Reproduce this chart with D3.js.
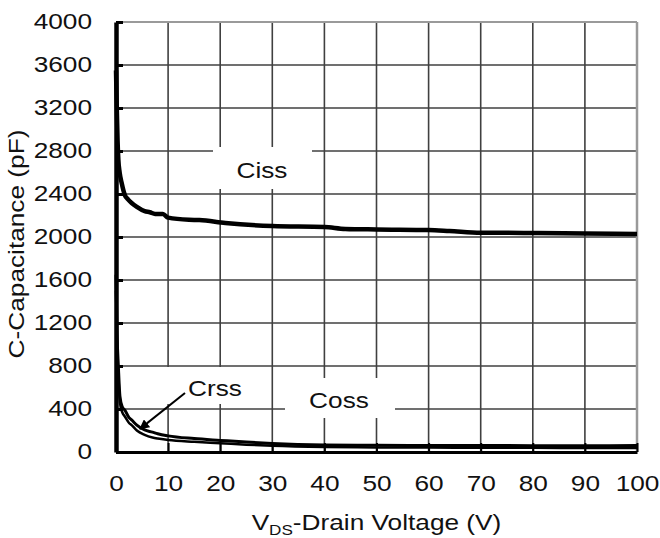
<!DOCTYPE html>
<html>
<head>
<meta charset="utf-8">
<script src="https://cdn.jsdelivr.net/npm/d3@7"></script>
<style>
  body { margin: 0; background: #fff; }
  text { font-family: "Liberation Sans", Arial, sans-serif; fill: #111; }
</style>
</head>
<body>
<svg id="chart" width="660" height="538"></svg>
<script>
// tick values
var xTicks = [0, 10, 20, 30, 40, 50, 60, 70, 80, 90, 100]
var yTicks = [0, 400, 800, 1200, 1600, 2000, 2400, 2800, 3200, 3600, 4000]

// Ciss curve
var vdsCiss = [0, 0.15, 0.3, 0.45, 0.7, 1.1, 1.7, 2.3, 3, 4, 5.5, 6.5, 7.5, 9, 10, 14, 16, 21, 30, 40, 44, 50, 60, 64, 70, 81, 90, 100]
var ciss = [3550, 3200, 2900, 2720, 2600, 2500, 2390, 2350, 2316, 2280, 2240, 2230, 2214, 2214, 2180, 2160, 2158, 2130, 2102, 2093, 2075, 2070, 2065, 2056, 2040, 2037, 2032, 2028]

// Coss / Crss curves
var vdsOut = [0, 0.2, 0.45, 0.75, 1.2, 1.7, 2.5, 3, 4, 5.5, 7, 8, 10, 15, 20, 25, 30, 40, 50, 60, 70, 80, 90, 100]
var coss = [1650, 1100, 800, 520, 420, 390, 320, 298, 250, 205, 185, 170, 150, 125, 108, 92, 80, 66, 62, 60, 60, 59, 59, 60]
var crss = [1500, 1000, 720, 460, 370, 330, 270, 250, 200, 160, 135, 125, 112, 95, 82, 68, 58, 47, 43, 41, 40, 39, 38, 38]

drawChart()

function drawChart() {
    var svg = d3.select("#chart")
    var pLeft = 116, pRight = 637, pTop = 22, pBottom = 452
    var stretchK = 1.22   // the glyphs in the original are wider than Arial

    var x = d3.scaleLinear().domain([0, 100]).range([pLeft, pRight])
    var y = d3.scaleLinear().domain([0, 4000]).range([pBottom, pTop])

    function stretch(sel) {
        sel.each(function () {
            var w = this.getComputedTextLength()
            d3.select(this).attr("textLength", w * stretchK).attr("lengthAdjust", "spacingAndGlyphs")
        })
    }

    //gridlines
    svg.append("g")
        .selectAll("line")
        .data(xTicks.slice(1, -1))
        .enter().append("line")
        .attr("x1", d => x(d)).attr("x2", d => x(d))
        .attr("y1", pTop).attr("y2", pBottom)
        .style("stroke", "#404040").style("stroke-width", 1.6)
    svg.append("g")
        .selectAll("line")
        .data(yTicks.slice(1, -1))
        .enter().append("line")
        .attr("x1", pLeft).attr("x2", pRight)
        .attr("y1", d => y(d)).attr("y2", d => y(d))
        .style("stroke", "#404040").style("stroke-width", 1.6)

    //top + right border
    svg.append("line").attr("x1", pLeft).attr("x2", pRight).attr("y1", pTop).attr("y2", pTop)
        .style("stroke", "#9a9a9a").style("stroke-width", 2)
    svg.append("line").attr("x1", pRight).attr("x2", pRight).attr("y1", pTop).attr("y2", pBottom)
        .style("stroke", "#9a9a9a").style("stroke-width", 2.5)

    //white boxes behind the labels
    var boxes = [[213, 147, 99, 42], [150, 367, 110, 37], [285, 378, 110, 40]]
    svg.append("g")
        .selectAll("rect")
        .data(boxes)
        .enter().append("rect")
        .attr("x", d => d[0]).attr("y", d => d[1])
        .attr("width", d => d[2]).attr("height", d => d[3])
        .attr("fill", "#fff")

    //labels
    var labels = [["Ciss", 262, 178], ["Crss", 215, 396], ["Coss", 339, 408]]
    svg.append("g")
        .selectAll("text")
        .data(labels)
        .enter().append("text")
        .attr("x", d => d[1]).attr("y", d => d[2])
        .attr("text-anchor", "middle")
        .style("font-size", "21.5px")
        .text(d => d[0])
        .call(stretch)

    //curves
    var line = d3.line()
        .x(d => x(d[0]))
        .y(d => y(d[1]))
        .curve(d3.curveMonotoneX)

    var series = [
        { v: vdsOut, c: crss, w: 2.5 },
        { v: vdsOut, c: coss, w: 3 },
        { v: vdsCiss, c: ciss, w: 4.5 }
    ]
    svg.append("g")
        .selectAll("path")
        .data(series)
        .enter().append("path")
        .attr("d", d => line(d.v.map((v, i) => [v, d.c[i]])))
        .attr("fill", "none")
        .style("stroke", "#000")
        .style("stroke-width", d => d.w)
        .style("stroke-linejoin", "round")

    //arrow for Crss
    svg.append("defs").append("marker")
        .attr("id", "arrow")
        .attr("viewBox", "0 0 10 10")
        .attr("refX", 9).attr("refY", 5)
        .attr("markerWidth", 5).attr("markerHeight", 5)
        .attr("orient", "auto")
        .append("path").attr("d", "M0,0L10,5L0,10z").attr("fill", "#000")
    svg.append("line")
        .attr("x1", 185).attr("y1", 393)
        .attr("x2", x(4.6)).attr("y2", y(215))
        .style("stroke", "#000").style("stroke-width", 2)
        .attr("marker-end", "url(#arrow)")

    //x axis
    var xAxis = svg.append("g")
        .attr("transform", "translate(0," + pBottom + ")")
        .call(d3.axisBottom(x).tickValues(xTicks).tickFormat(d3.format("d")).tickSize(-9).tickSizeOuter(0).tickPadding(24))
    xAxis.attr("font-family", null)
    xAxis.select(".domain").style("stroke", "#000").style("stroke-width", 3)
    xAxis.selectAll(".tick line").style("stroke", "#000").style("stroke-width", 2)
    xAxis.selectAll("text").style("font-size", "21.5px").attr("fill", "#111").call(stretch)

    //y axis
    var yAxis = svg.append("g")
        .attr("transform", "translate(" + pLeft + ",0)")
        .call(d3.axisLeft(y).tickValues(yTicks).tickFormat(d3.format("d")).tickSize(-7).tickSizeOuter(0).tickPadding(24))
    yAxis.attr("font-family", null)
    yAxis.select(".domain").style("stroke", "#000").style("stroke-width", 4.5)
    yAxis.selectAll(".tick line").style("stroke", "#000").style("stroke-width", 3)
    yAxis.selectAll("text").style("font-size", "21.5px").attr("fill", "#111").call(stretch)

    //axis titles
    var xt = svg.append("text")
        .attr("x", (pLeft + pRight) / 2)
        .attr("y", 530)
        .attr("text-anchor", "middle")
        .style("font-size", "21.5px")
    xt.append("tspan").text("V")
    xt.append("tspan").text("DS").style("font-size", "14px").attr("dy", 5)
    xt.append("tspan").text("-Drain Voltage (V)").attr("dy", -5)
    xt.call(stretch)

    svg.append("text")
        .attr("transform", "translate(24,244) rotate(-90)")
        .attr("text-anchor", "middle")
        .style("font-size", "21.5px")
        .text("C-Capacitance (pF)")
        .call(stretch)
}
</script>
</body>
</html>
